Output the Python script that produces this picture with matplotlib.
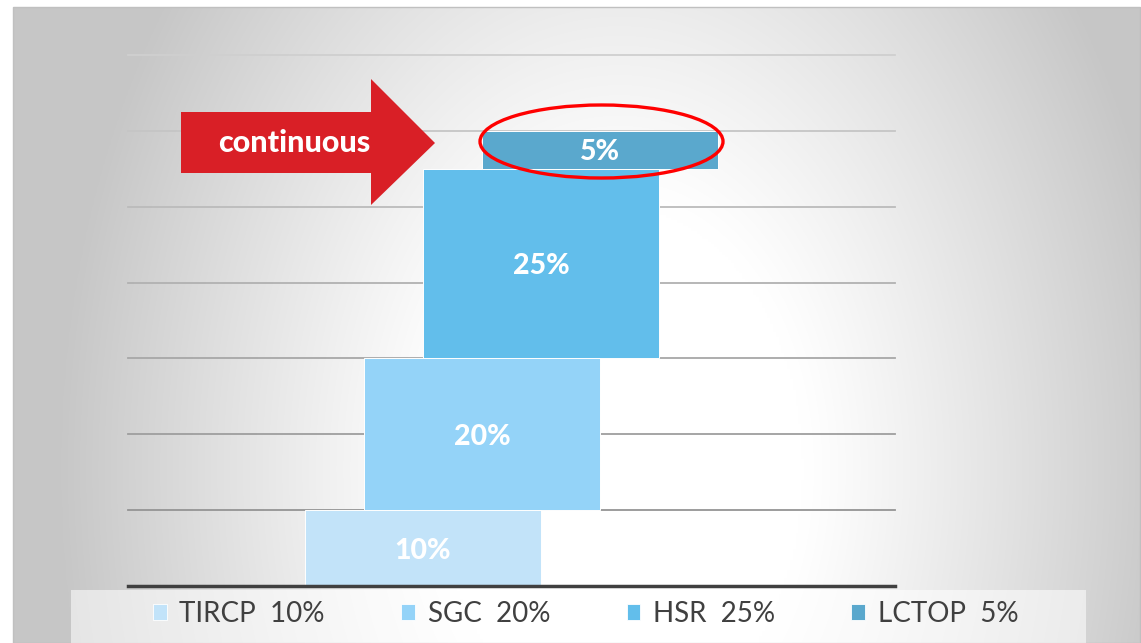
import matplotlib

matplotlib.use("Agg")
import matplotlib.pyplot as plt  # noqa: E402
import numpy as np  # noqa: E402
from matplotlib.patches import Ellipse, Patch, Polygon, Rectangle  # noqa: E402

programs = ["TIRCP", "SGC", "HSR", "LCTOP"]
shares = [10, 20, 25, 5]
colors = ["#C2E3F9", "#94D3F8", "#62BEEB", "#5AA8CD"]
legend_labels = ["TIRCP  10%", "SGC  20%", "HSR  25%", "LCTOP  5%"]
y_ticks = [10, 20, 30, 40, 50, 60, 70]

W, H = 1141, 643
plt.rcParams["font.family"] = ["Lato", "DejaVu Sans"]

fig = plt.figure(figsize=(W / 100, H / 100), dpi=100)
fig.patch.set_facecolor("white")

# ----- backdrop: radial grey gradient inside a frame, legend strip -----
bg = fig.add_axes([0, 0, 1, 1], zorder=-2)
bg.set_xlim(0, W)
bg.set_ylim(H, 0)
bg.axis("off")
gx, gy = np.meshgrid(np.linspace(13, W, 400), np.linspace(7, H, 240))
d = np.sqrt(((gx - 620) / 560) ** 2 + ((gy - 470) / 800) ** 2)
v = 1.0 - 0.22 * np.clip((d - 0.33) / 0.67, 0, 1) ** 1.1
bg.imshow(np.dstack([v, v, v]), extent=(13, W, H, 7), aspect="auto",
          interpolation="bilinear")
bg.add_patch(Rectangle((13, 7), W - 14, H - 7, fill=False, ec="#c0c0c0", lw=1))
bg.add_patch(Rectangle((71, 590), 1086 - 71, H - 590, fc="white", alpha=0.55, lw=0))

# ----- stacked floating bars -----
ax = fig.add_axes([128 / W, (H - 586) / H, (895 - 128) / W, (586 - 55) / H])
ax.set_facecolor("none")
bottoms = np.concatenate([[0], np.cumsum(shares)[:-1]])
xs = np.arange(len(programs))
ax.bar(xs, shares, width=4, bottom=bottoms, color=colors, edgecolor="white",
       linewidth=0.7, zorder=3)
for x, b, s in zip(xs, bottoms, shares):
    ax.text(x, b + s / 2, f"{s}%", ha="center", va="center_baseline", color="white",
            fontsize=20.5, fontweight="black", zorder=4)
ax.set_xlim(-5, 8)
ax.set_ylim(0, 70)
# gridlines fade from mid grey at the bottom to light grey at the top
for t in y_ticks:
    g = 0.58 + 0.23 * (t - y_ticks[0]) / (y_ticks[-1] - y_ticks[0])
    ax.axhline(t, color=(g, g, g), lw=1.3, zorder=1, clip_on=False)
ax.set_yticks([])
ax.set_xticks([])
for name, s in ax.spines.items():
    s.set_visible(name == "bottom")
ax.spines["bottom"].set_color("#404040")
ax.spines["bottom"].set_linewidth(2.5)
ax.spines["bottom"].set_zorder(5)

fig.legend([Patch(fc=c, ec="white", lw=0.6) for c in colors], legend_labels,
           ncol=4, loc="center left", bbox_to_anchor=(153 / W, 1 - 614 / H),
           frameon=False, fontsize=20, labelcolor="#404040",
           handlelength=0.5, handleheight=0.5, handletextpad=0.45,
           columnspacing=2.75, borderaxespad=0, borderpad=0)

# ----- callouts: red arrow and ellipse -----
ov = fig.add_axes([0, 0, 1, 1], zorder=5)
ov.set_facecolor("none")
ov.set_xlim(0, W)
ov.set_ylim(H, 0)
ov.axis("off")
arrow = [(181, 112), (371, 112), (371, 79), (435, 143), (371, 205),
         (371, 173), (181, 173)]
ov.add_patch(Polygon(arrow, closed=True, fc="#D91F26", ec="none"))
ov.text(294, 143, "continuous", ha="center", va="center", color="white",
        fontsize=22, fontweight="black")
ov.add_patch(Ellipse((601.5, 141.5), 243, 73, fill=False, ec="#FF0000", lw=2.4))

fig.savefig("out.png", dpi=100)
